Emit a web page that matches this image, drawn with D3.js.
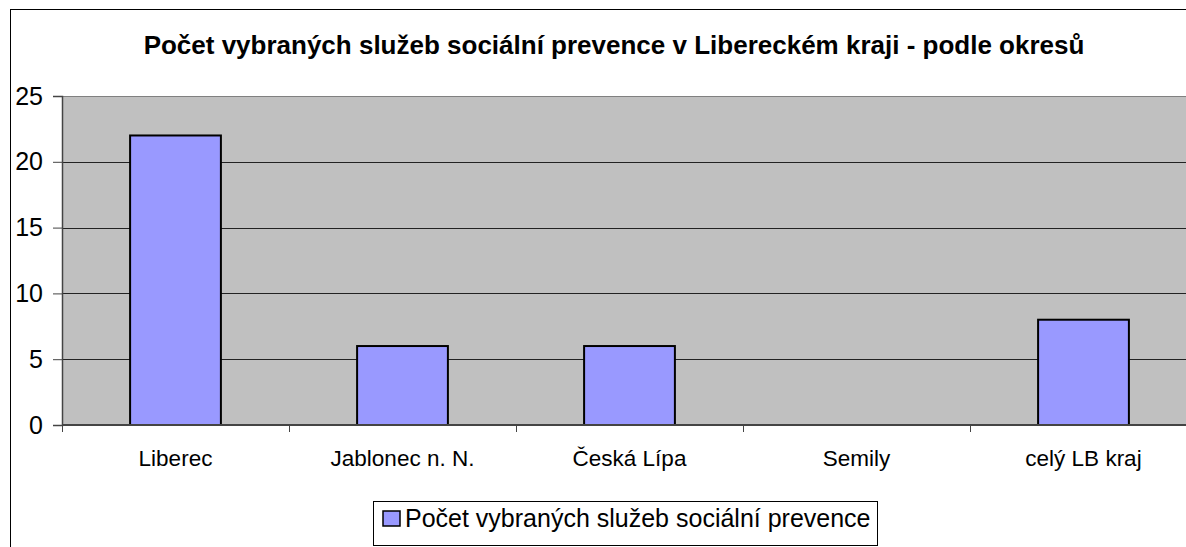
<!DOCTYPE html>
<html>
<head>
<meta charset="utf-8">
<script src="https://cdn.jsdelivr.net/npm/d3@7"></script>
<style>
  body { margin: 0; background: #fff; }
  svg text { font-family: "Liberation Sans", Arial, sans-serif; fill: #000; }
</style>
</head>
<body>
<div id="graf"></div>
<script>
const okresy = ["Liberec", "Jablonec n. N.", "Česká Lípa", "Semily", "celý LB kraj"]
const pocty = [22, 6, 6, 0, 8]
const yTicks = [0, 5, 10, 15, 20, 25]
const titulek = "Počet vybraných služeb sociální prevence v Libereckém kraji - podle okresů"
const nazevRady = "Počet vybraných služeb sociální prevence"

const anchoTotal = 1186
const altoTotal = 547

const margins = { top: 96, right: -11, bottom: 122, left: 62 }
const ancho = anchoTotal - margins.left - margins.right
const alto = altoTotal - margins.top - margins.bottom

const svg = d3.select("#graf").append("svg")
  .attr("width", anchoTotal).attr("height", altoTotal)

// ramecek grafu
svg.append("rect")
  .attr("x", 10.5).attr("y", 9.5).attr("width", 1205).attr("height", 600)
  .attr("fill", "#fff").attr("stroke", "#000")

// titulek
svg.append("text")
  .attr("x", 614).attr("y", 54)
  .attr("text-anchor", "middle")
  .style("font-size", "26px").style("font-weight", "bold")
  .text(titulek)

const g = svg.append("g").attr("transform", `translate(${margins.left}, ${margins.top})`)

const x = d3.scaleBand().domain(okresy).range([0, ancho]).paddingInner(0.6).paddingOuter(0.3)
const y = d3.scaleLinear().domain([0, 25]).range([alto, 0])

// plocha
g.append("rect").attr("width", ancho).attr("height", alto).attr("fill", "#c0c0c0")

// mrizka
g.selectAll(".grid").data(yTicks.filter(d => d > 0)).join("line")
  .attr("x1", 0).attr("x2", ancho)
  .attr("y1", d => Math.round(y(d)) + 0.5).attr("y2", d => Math.round(y(d)) + 0.5)
  .attr("stroke", d => d === 25 ? "#808080" : "#222")

// sloupce
g.selectAll(".bar").data(pocty).join("rect")
  .attr("x", (d, i) => x(okresy[i]))
  .attr("y", d => y(d))
  .attr("width", x.bandwidth())
  .attr("height", d => alto - y(d))
  .attr("fill", "#9999ff").attr("stroke", "#000").attr("stroke-width", 2)
  .attr("display", d => d > 0 ? null : "none")

// osa y
const yAxis = g.append("g").call(d3.axisLeft(y).tickValues(yTicks).tickSize(9).tickPadding(10))
yAxis.select(".domain").attr("stroke", "#444").attr("stroke-width", 1.5)
yAxis.selectAll(".tick line").attr("stroke", "#444")
yAxis.selectAll("text").style("font-size", "25px").attr("font-family", null)

// osa x - carky na hranicich kategorii
const step = x.step()
const hranice = d3.range(okresy.length + 1).map(i => i * step)
g.selectAll(".xtick").data(hranice).join("line")
  .attr("x1", d => Math.round(d) + 0.5).attr("x2", d => Math.round(d) + 0.5)
  .attr("y1", alto).attr("y2", alto + 7)
  .attr("stroke", "#444")
g.append("line").attr("x1", 0).attr("x2", ancho).attr("y1", alto).attr("y2", alto)
  .attr("stroke", "#444").attr("stroke-width", 2)

g.selectAll(".xlabel").data(okresy).join("text")
  .attr("x", d => x(d) + x.bandwidth() / 2)
  .attr("y", alto + 41)
  .attr("text-anchor", "middle")
  .style("font-size", "22.5px")
  .text(d => d)

// legenda
const leg = svg.append("g").attr("transform", "translate(373, 501)")
leg.append("rect").attr("x", 0.5).attr("y", 0.5).attr("width", 504).attr("height", 44)
  .attr("fill", "#fff").attr("stroke", "#000")
leg.append("rect").attr("x", 10).attr("y", 10).attr("width", 17).attr("height", 15)
  .attr("fill", "#9999ff").attr("stroke", "#000").attr("stroke-width", 1.5)
leg.append("text").attr("x", 32).attr("y", 26)
  .style("font-size", "25px")
  .text(nazevRady)
</script>
</body>
</html>
